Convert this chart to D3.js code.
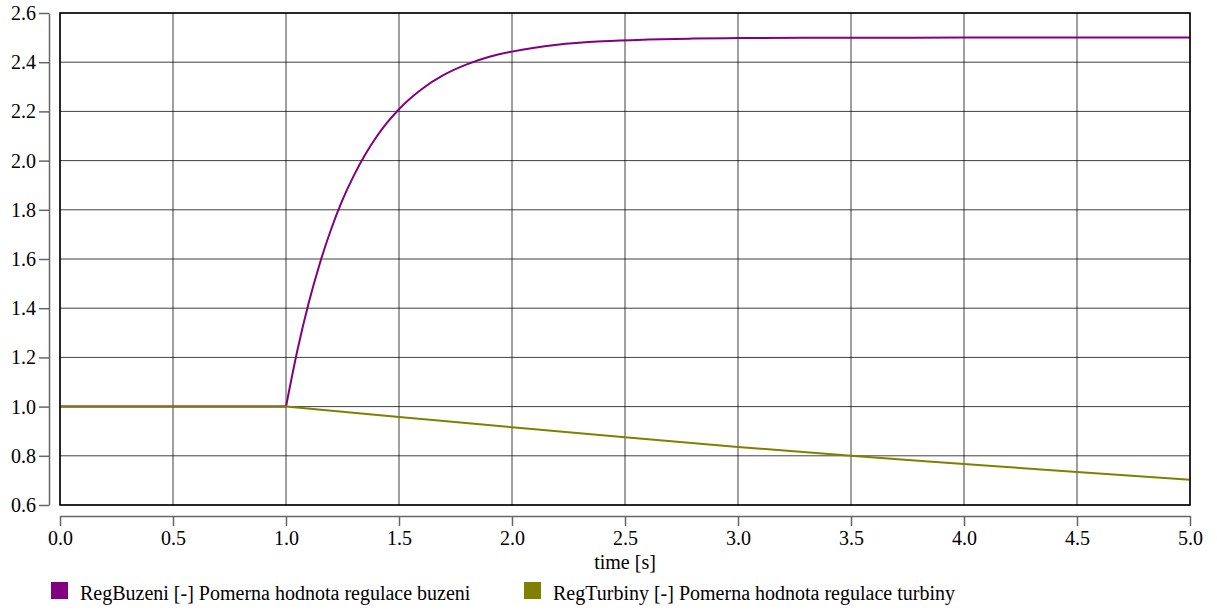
<!DOCTYPE html>
<html>
<head>
<meta charset="utf-8">
<script src="https://cdn.jsdelivr.net/npm/d3@7"></script>
<style>
  html, body { margin: 0; padding: 0; background: #fff; }
  svg { display: block; }
</style>
</head>
<body>
<svg id="chart" width="1217" height="610"></svg>
<script>
// ---- data ----
const seriesNames = [
  "RegBuzeni [-] Pomerna hodnota regulace buzeni",
  "RegTurbiny [-] Pomerna hodnota regulace turbiny"
];
const seriesColors = ["#800080", "#808000"];

const buzeniTime  = [0.0, 1.0, 1.05, 1.10, 1.15, 1.20, 1.25, 1.30, 1.35, 1.40, 1.45, 1.50, 1.60, 1.70, 1.80, 1.90, 2.00, 2.20, 2.40, 2.60, 2.80, 3.00, 3.50, 4.00, 5.00];
const buzeniValue = [1.0, 1.0, 1.227, 1.420, 1.583, 1.722, 1.840, 1.939, 2.024, 2.096, 2.157, 2.209, 2.290, 2.349, 2.391, 2.422, 2.443, 2.471, 2.485, 2.492, 2.496, 2.498, 2.4995, 2.5, 2.5];

const turbinyTime  = [0.0, 1.0, 1.5, 2.0, 2.5, 3.0, 3.5, 4.0, 4.5, 5.0];
const turbinyValue = [1.0, 1.0, 0.958, 0.916, 0.875, 0.836, 0.800, 0.767, 0.734, 0.703];

const stepTime = 1.0;

const xTicks = [0.0, 0.5, 1.0, 1.5, 2.0, 2.5, 3.0, 3.5, 4.0, 4.5, 5.0];
const yTicks = [0.6, 0.8, 1.0, 1.2, 1.4, 1.6, 1.8, 2.0, 2.2, 2.4, 2.6];
const xLabel = "time [s]";

// ---- layout ----
const FONT = "'Liberation Serif', 'Times New Roman', Times, 'DejaVu Serif', 'Noto Serif', serif";
const svg = d3.select("#chart").style("font-family", FONT);
const L = 60, R = 1190, T = 13, B = 505;
const x = d3.scaleLinear().domain([0, 5]).range([L, R]);
const y = d3.scaleLinear().domain([0.6, 2.6]).range([B, T]);
const fontSize = 20;

// grid
const grid = svg.append("g");
grid.selectAll("line.v").data(xTicks).join("line")
  .attr("x1", d => x(d)).attr("x2", d => x(d))
  .attr("y1", T).attr("y2", B)
  .attr("stroke", "#000").attr("stroke-width", 1).attr("stroke-opacity", 0.75);
grid.selectAll("line.h").data(yTicks).join("line")
  .attr("x1", L).attr("x2", R)
  .attr("y1", d => y(d)).attr("y2", d => y(d))
  .attr("stroke", "#000").attr("stroke-width", 1).attr("stroke-opacity", 0.75);

// series: flat part before step drawn linear, response after step smoothed
const lineLin = d3.line().x(d => x(d[0])).y(d => y(d[1]));
const lineSmooth = d3.line().x(d => x(d[0])).y(d => y(d[1])).curve(d3.curveMonotoneX);
const seriesData = [
  d3.zip(buzeniTime, buzeniValue),
  d3.zip(turbinyTime, turbinyValue)
];
seriesData.forEach((data, i) => {
  const pre = data.filter(d => d[0] <= stepTime);
  const post = data.filter(d => d[0] >= stepTime);
  const g = svg.append("g").attr("fill", "none").attr("stroke", seriesColors[i]).attr("stroke-width", 2);
  g.append("path").datum(pre).attr("d", lineLin);
  g.append("path").datum(post).attr("d", lineSmooth);
});

// frame
svg.append("rect").attr("x", L).attr("y", T).attr("width", R - L).attr("height", B - T)
  .attr("fill", "none").attr("stroke", "#000").attr("stroke-width", 1.5);

// y axis (detached, left)
const yAxis = d3.axisLeft(y).tickValues(yTicks).tickFormat(d3.format(".1f"))
  .tickSizeInner(10).tickSizeOuter(0).tickPadding(3);
const gy = svg.append("g").attr("transform", "translate(49,0)").call(yAxis)
  .attr("font-family", FONT).attr("font-size", fontSize);
gy.select(".domain").attr("stroke", "#666").attr("stroke-width", 1.5);
gy.selectAll(".tick line").attr("stroke", "#666").attr("stroke-width", 1.5);
gy.selectAll(".tick text").attr("fill", "#000");

// x axis (detached, below)
const xAxis = d3.axisBottom(x).tickValues(xTicks).tickFormat(d3.format(".1f"))
  .tickSizeInner(10).tickSizeOuter(0).tickPadding(5);
const gx = svg.append("g").attr("transform", "translate(0,516)").call(xAxis)
  .attr("font-family", FONT).attr("font-size", fontSize);
gx.select(".domain").attr("stroke", "#666").attr("stroke-width", 1.5);
gx.selectAll(".tick line").attr("stroke", "#666").attr("stroke-width", 1.5);
gx.selectAll(".tick text").attr("fill", "#000");

svg.append("text").attr("x", (L + R) / 2).attr("y", 569)
  .attr("text-anchor", "middle").attr("font-size", fontSize).text(xLabel);

// legend
const legendX = [51, 524];
const lg = svg.append("g");
seriesNames.forEach((name, i) => {
  lg.append("rect").attr("x", legendX[i]).attr("y", 582).attr("width", 17).attr("height", 17)
    .attr("fill", seriesColors[i]);
  lg.append("text").attr("x", legendX[i] + 29).attr("y", 600)
    .attr("font-size", fontSize).text(name);
});
</script>
</body>
</html>
